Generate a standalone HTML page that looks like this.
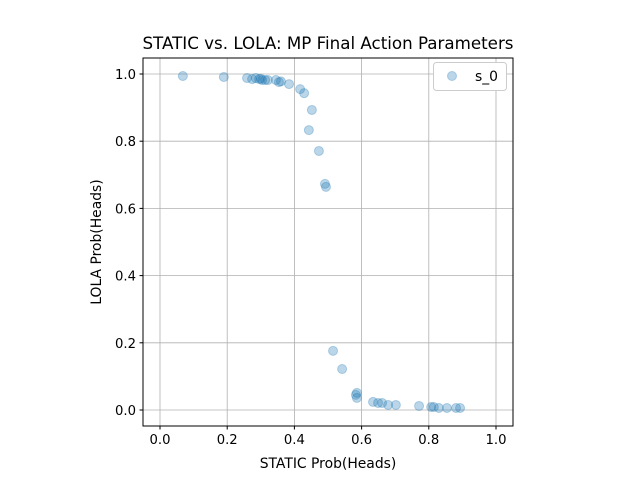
<!DOCTYPE html>
<html><head><meta charset="utf-8"><style>
body{margin:0;background:#fff}
svg{display:block;font-family:"DejaVu Sans","Liberation Sans",sans-serif}
</style></head><body>
<svg id="chart" width="640" height="480">
<rect x="0" y="0" width="640" height="480" fill="#fff"/>
<text x="328" y="49" text-anchor="middle" font-size="16.7" fill="#000">STATIC vs. LOLA: MP Final Action Parameters</text>
<g id="grid"></g>
<g id="points"></g>
<rect x="143" y="58" width="370" height="368" fill="none" stroke="#000" stroke-width="1"/>
<g id="ticks"></g>
<text x="328" y="468" text-anchor="middle" font-size="13.9">STATIC Prob(Heads)</text>
<text transform="translate(101,242) rotate(-90)" text-anchor="middle" font-size="13.9">LOLA Prob(Heads)</text>
<g>
<rect x="433.5" y="62.5" width="73" height="28" rx="3" fill="#fff" stroke="#ccc"/>
<circle cx="452" cy="76" r="4.5" fill="rgba(31,119,180,0.3)" stroke="rgba(31,119,180,0.3)"/>
<text x="475" y="81" font-size="13.9">s_0</text>
</g>
</svg>
<script>
const xTicks=[0,0.2,0.4,0.6,0.8,1.0];
const yTicks=[0,0.2,0.4,0.6,0.8,1.0];
const tickLabels=["0.0","0.2","0.4","0.6","0.8","1.0"];
const staticProb=[0.068,0.190,0.259,0.274,0.285,0.295,0.300,0.304,0.313,0.321,0.345,0.354,0.360,0.384,0.417,0.429,0.452,0.443,0.473,0.491,0.494,0.515,0.542,0.583,0.586,0.586,0.634,0.649,0.661,0.679,0.702,0.771,0.807,0.815,0.830,0.854,0.881,0.893];
const lolaProb=[0.994,0.991,0.988,0.985,0.988,0.985,0.986,0.982,0.982,0.982,0.982,0.976,0.978,0.970,0.955,0.943,0.893,0.833,0.771,0.673,0.664,0.176,0.122,0.045,0.051,0.036,0.024,0.021,0.021,0.015,0.015,0.012,0.009,0.009,0.006,0.006,0.006,0.006];
const NS="http://www.w3.org/2000/svg";
const xs=v=>160+v*336, ys=v=>410-v*336;
const grid=document.getElementById('grid'),ticks=document.getElementById('ticks'),pts=document.getElementById('points');
function mk(tag,attrs,parent){const e=document.createElementNS(NS,tag);for(const k in attrs)e.setAttribute(k,attrs[k]);parent.appendChild(e);return e;}
xTicks.forEach((v,i)=>{
 const g=mk('line',{x1:xs(v),x2:xs(v),y1:58,y2:426,stroke:'#b0b0b0','stroke-width':0.8},grid);
 
 
 mk('line',{x1:xs(v),x2:xs(v),y1:426,y2:429.5,stroke:'#000'},ticks);
 const t=mk('text',{x:xs(v),y:444,'text-anchor':'middle','font-size':13.2},ticks);t.textContent=tickLabels[i];
 
 
});
yTicks.forEach((v,i)=>{
 const g=mk('line',{x1:143,x2:513,y1:ys(v),y2:ys(v),stroke:'#b0b0b0','stroke-width':0.8},grid);
 
 
 mk('line',{x1:139.5,x2:143,y1:ys(v),y2:ys(v),stroke:'#000'},ticks);
 const t=mk('text',{x:136,y:ys(v)+5,'text-anchor':'end','font-size':13.2},ticks);t.textContent=tickLabels[i];
 
 
});
staticProb.forEach((v,i)=>{
 const c=mk('circle',{cx:xs(v),cy:ys(lolaProb[i]),r:4.5,fill:'rgba(31,119,180,0.3)',stroke:'rgba(31,119,180,0.3)','stroke-width':1},pts);
 
 
});
</script>
</body></html>
